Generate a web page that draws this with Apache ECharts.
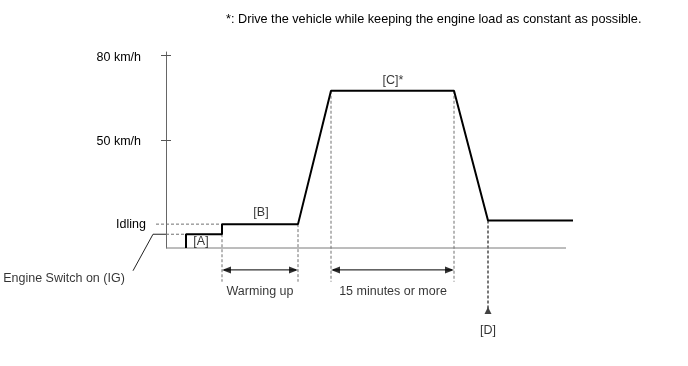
<!DOCTYPE html>
<html>
<head>
<meta charset="utf-8">
<script src="https://cdn.jsdelivr.net/npm/echarts@6/dist/echarts.min.js"></script>
<style>html,body{margin:0;padding:0;background:#fff}#c{width:688px;height:366px}</style>
</head>
<body>
<div id="c"></div>
<script>
// Speed profile (x: time units, y: speed units on the schematic axis)
const profileX = [20, 20, 56, 56, 132, 165, 288, 322, 407];
const profileY = [11.5, 16.4, 16.4, 20, 20, 67.5, 67.5, 21.3, 21.3];
// Axis ticks / labels
const tickValues = [50, 80];
const labelValues = [20, 50, 80];
const labelTexts = ['Idling', '50 km/h', '80 km/h'];
// Baseline
const baseX = [0, 400];
const baseY = [11.5, 11.5];
// Dashed guide lines
const guideX = [56, 132, 165, 288];
const guideTop = [16.4, 20, 67.5, 67.5];
const guideBottom = [-0.5, -0.5, -0.5, -0.5];
// Horizontal dashed references (main panel part)
const idleRefX = [0, 56];
const idleRefY = [20, 20];
const ignRefX = [0, 20];
const ignRefY = [16.4, 16.4];
// Left-margin panel (x < 0): idling reference stub, leader line, label
const idleStubX = [-10, 0];
const idleStubY = [20, 20];
const leaderX = [-33, -13, 0];
const leaderY = [3.4, 16.4, 16.4];
const leftNoteNames = ['Engine Switch on (IG)'];
const leftNoteX = [-102];
const leftNoteY = [0.6];
// Duration arrows
const arrowStart = [56, 165];
const arrowEnd = [132, 288];
const arrowY = [3.7, 3.7];
// [D] marker
const dX = [322, 322];
const dY = [21.3, -10.8];
// Text annotations (main panel)
const noteNames = ['[A]', '[B]', '[C]*', '[D]', 'Warming up', '15 minutes or more'];
const noteX = [35, 95, 227, 322, 94, 227];
const noteY = [13.9, 24.1, 71.2, -17.9, -4.1, -4.1];

const font = 'Liberation Sans, Arial, sans-serif';
const FS = 12.5;
const HEAD_LEN = 9;
const dash = [3, 2];
const series = [];
const line = (xs, ys, style, extra) => Object.assign({
  type: 'line', data: xs.map((x, i) => [x, ys[i]]), symbol: 'none', clip: false,
  lineStyle: style, z: 1, silent: true
}, extra || {});

series.push(line(baseX, baseY, { color: '#7a7a7a', width: 1 }));
guideX.forEach((x, i) => {
  series.push(line([x, x], [guideTop[i], guideBottom[i]], { color: '#707070', width: 1, type: dash }));
});
series.push(line(idleRefX, idleRefY, { color: '#707070', width: 1, type: dash }));
series.push(line(ignRefX, ignRefY, { color: '#707070', width: 1, type: dash }));
series.push(line(dX, dY, { color: '#777', width: 2, type: dash }));
series.push({
  type: 'scatter', data: [[dX[1], dY[1]]], symbol: 'triangle', symbolSize: [7, 7], clip: false,
  itemStyle: { color: '#111' }, z: 3, silent: true
});
series.push(line(profileX, profileY, { color: '#000', width: 2 }, { z: 5 }));
arrowStart.forEach((s, i) => {
  series.push(line([s + 2, arrowEnd[i] - 2], [arrowY[i], arrowY[i]], { color: '#000', width: 1 }, { z: 3 }));
});
series.push({
  type: 'scatter', symbol: 'triangle', symbolSize: [7, HEAD_LEN], symbolRotate: 90, clip: false, silent: true,
  data: arrowStart.map((s, i) => [s + HEAD_LEN / 2, arrowY[i]]), itemStyle: { color: '#000' }, z: 4
});
series.push({
  type: 'scatter', symbol: 'triangle', symbolSize: [7, HEAD_LEN], symbolRotate: -90, clip: false, silent: true,
  data: arrowEnd.map((e, i) => [e - HEAD_LEN / 2, arrowY[i]]), itemStyle: { color: '#000' }, z: 4
});
const textSeries = (names, xs, ys, extra) => Object.assign({
  type: 'scatter', symbolSize: 0, clip: false, silent: true,
  data: names.map((n, i) => ({ name: n, value: [xs[i], ys[i]] })),
  label: { show: true, position: 'inside', formatter: p => p.name, color: '#000', fontSize: FS, fontFamily: font }
}, extra || {});
series.push(textSeries(noteNames, noteX, noteY));
// left panel (grid 1)
const left = { xAxisIndex: 1, yAxisIndex: 2 };
series.push(line(idleStubX, idleStubY, { color: '#707070', width: 1, type: dash }, left));
series.push(line(leaderX, leaderY, { color: '#222', width: 1 }, Object.assign({ z: 2 }, left)));
series.push(textSeries(leftNoteNames, leftNoteX, leftNoteY, left));

const chart = echarts.init(document.getElementById('c'), null, { renderer: 'canvas' });
chart.setOption({
  animation: false,
  backgroundColor: '#fff',
  title: {
    text: '*: Drive the vehicle while keeping the engine load as constant as possible.',
    left: 221, top: 8,
    textStyle: { fontSize: 12.7, fontWeight: 'normal', color: '#000', fontFamily: font }
  },
  grid: [
    { left: 166, right: 115, top: 52, bottom: 118, outerBoundsMode: 'none', containLabel: false },
    { left: 0, width: 166, top: 52, bottom: 118, outerBoundsMode: 'none', containLabel: false }
  ],
  xAxis: [
    { type: 'value', gridIndex: 0, min: 0, max: 407, show: false },
    { type: 'value', gridIndex: 1, min: -166, max: 0, show: false }
  ],
  yAxis: [{
    type: 'value', gridIndex: 0, min: 11.5, max: 81.3, position: 'left',
    axisLine: { show: true, lineStyle: { color: '#666', width: 1 } },
    axisTick: { show: true, length: 5, customValues: tickValues, lineStyle: { color: '#555' } },
    splitLine: { show: false },
    axisLabel: {
      show: true, customValues: labelValues, margin: 20,
      formatter: v => {
        const t = labelTexts[labelValues.indexOf(v)];
        return t === 'Idling' ? t : '{k|' + t + '}';
      },
      color: '#000', fontSize: FS, fontFamily: font,
      rich: { k: { fontSize: FS, fontFamily: font, color: '#000', padding: [3, 5, 0, 0] } }
    }
  }, {
    type: 'value', gridIndex: 0, min: 11.5, max: 81.3, position: 'left',
    axisLine: { show: false },
    axisTick: { show: true, inside: true, length: 5, customValues: tickValues, lineStyle: { color: '#555' } },
    axisLabel: { show: false }, splitLine: { show: false }
  }, {
    type: 'value', gridIndex: 1, min: 11.5, max: 81.3, show: false
  }],
  series: series
});
</script>
</body>
</html>
